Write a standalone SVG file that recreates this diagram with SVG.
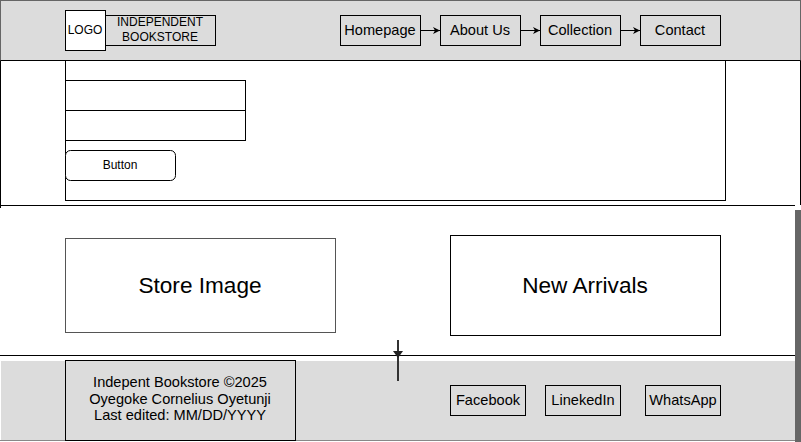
<svg xmlns="http://www.w3.org/2000/svg" width="801" height="442" viewBox="0 0 801 442">
<style>
text{font-family:"Liberation Sans",Arial,sans-serif;fill:#000;text-anchor:middle;dominant-baseline:central}
.b{stroke:#000;stroke-width:1}
.g{fill:#dcdcdc}
.w{fill:#fff}
.f14{font-size:14.6px}
.f12{font-size:12px}
.f22{font-size:22.6px}
</style>
<defs>
<marker id="ah" markerWidth="8" markerHeight="8" refX="7" refY="4" orient="auto" markerUnits="userSpaceOnUse">
<path d="M0,0.5 L7,4 L0,7.5 L2,4 Z" fill="#000"/>
</marker>
</defs>
<rect width="801" height="442" fill="#fff"/>
<g id="header"><rect x="0.5" y="0.5" width="800" height="60" class="g" stroke="#666"/></g>
<g id="content"><path d="M0.5,208 V60.5 H800.5 V205" class="w b"/><line x1="0" y1="205.5" x2="795" y2="205.5" stroke="#000"/></g>
<g id="main"><line x1="0" y1="355.5" x2="795" y2="355.5" stroke="#000"/></g>
<g id="footer"><rect x="1" y="361" width="794" height="79" class="g"/><line x1="0" y1="440.5" x2="795" y2="440.5" stroke="#888"/></g>
<g id="scrollbar"><rect x="795" y="210" width="6" height="232" fill="#666"/></g>
<g id="content-box"><rect x="65.5" y="60.5" width="660" height="140" fill="none" class="b"/></g>
<g id="input1"><rect x="65.5" y="80.5" width="180" height="30" class="w b"/></g>
<g id="input2"><rect x="65.5" y="110.5" width="180" height="30" class="w b"/></g>
<g id="button"><rect x="65.5" y="150.5" width="110" height="30" rx="5" class="w b"/><text x="120" y="165" class="f12">Button</text></g>
<g id="logo"><rect x="65.5" y="10.5" width="40" height="40" class="w b"/><text x="85" y="30" class="f12">LOGO</text></g>
<g id="brand"><rect x="105.5" y="15.5" width="110" height="30" class="g b"/><text x="160" y="22" class="f12">INDEPENDENT</text><text x="160" y="37" class="f12">BOOKSTORE</text></g>
<g id="nav-home"><rect x="340.5" y="15.5" width="80" height="30" class="g b"/><text x="380" y="30" class="f14">Homepage</text></g>
<g id="nav-about"><rect x="440.5" y="15.5" width="80" height="30" class="g b"/><text x="480" y="30" class="f14">About Us</text></g>
<g id="nav-collection"><rect x="540.5" y="15.5" width="80" height="30" class="g b"/><text x="580" y="30" class="f14">Collection</text></g>
<g id="nav-contact"><rect x="640.5" y="15.5" width="80" height="30" class="g b"/><text x="680" y="30" class="f14">Contact</text></g>
<g id="store-image"><rect x="65.5" y="238.5" width="270" height="94" class="w" stroke="#555"/><text x="200" y="285" class="f22">Store Image</text></g>
<g id="new-arrivals"><rect x="450.5" y="235.5" width="270" height="100" class="w b"/><text x="585" y="285" class="f22">New Arrivals</text></g>
<g id="footer-info"><rect x="65.5" y="360.5" width="230" height="80" class="g b"/><text x="180" y="382" class="f14">Indepent Bookstore ©2025</text><text x="180" y="399" class="f14">Oyegoke Cornelius Oyetunji</text><text x="180" y="415" class="f14">Last edited: MM/DD/YYYY</text></g>
<g id="facebook"><rect x="450.5" y="385.5" width="75" height="30" class="g b"/><text x="488" y="400" class="f14">Facebook</text></g>
<g id="linkedin"><rect x="545.5" y="385.5" width="75" height="30" class="g b"/><text x="583" y="400" class="f14">LinekedIn</text></g>
<g id="whatsapp"><rect x="645.5" y="385.5" width="75" height="30" class="g b"/><text x="683" y="400" class="f14">WhatsApp</text></g>
<g id="connectors" fill="none">
<line x1="421" y1="30.5" x2="440" y2="30.5" stroke="#000" marker-end="url(#ah)"/>
<line x1="521" y1="30.5" x2="540" y2="30.5" stroke="#000" marker-end="url(#ah)"/>
<line x1="621" y1="30.5" x2="640" y2="30.5" stroke="#000" marker-end="url(#ah)"/>
<line x1="398" y1="340" x2="398" y2="381" stroke="#333" stroke-width="2"/>
<path d="M393,351 L403,351 L398,358 Z" fill="#222"/>
</g>
</svg>
